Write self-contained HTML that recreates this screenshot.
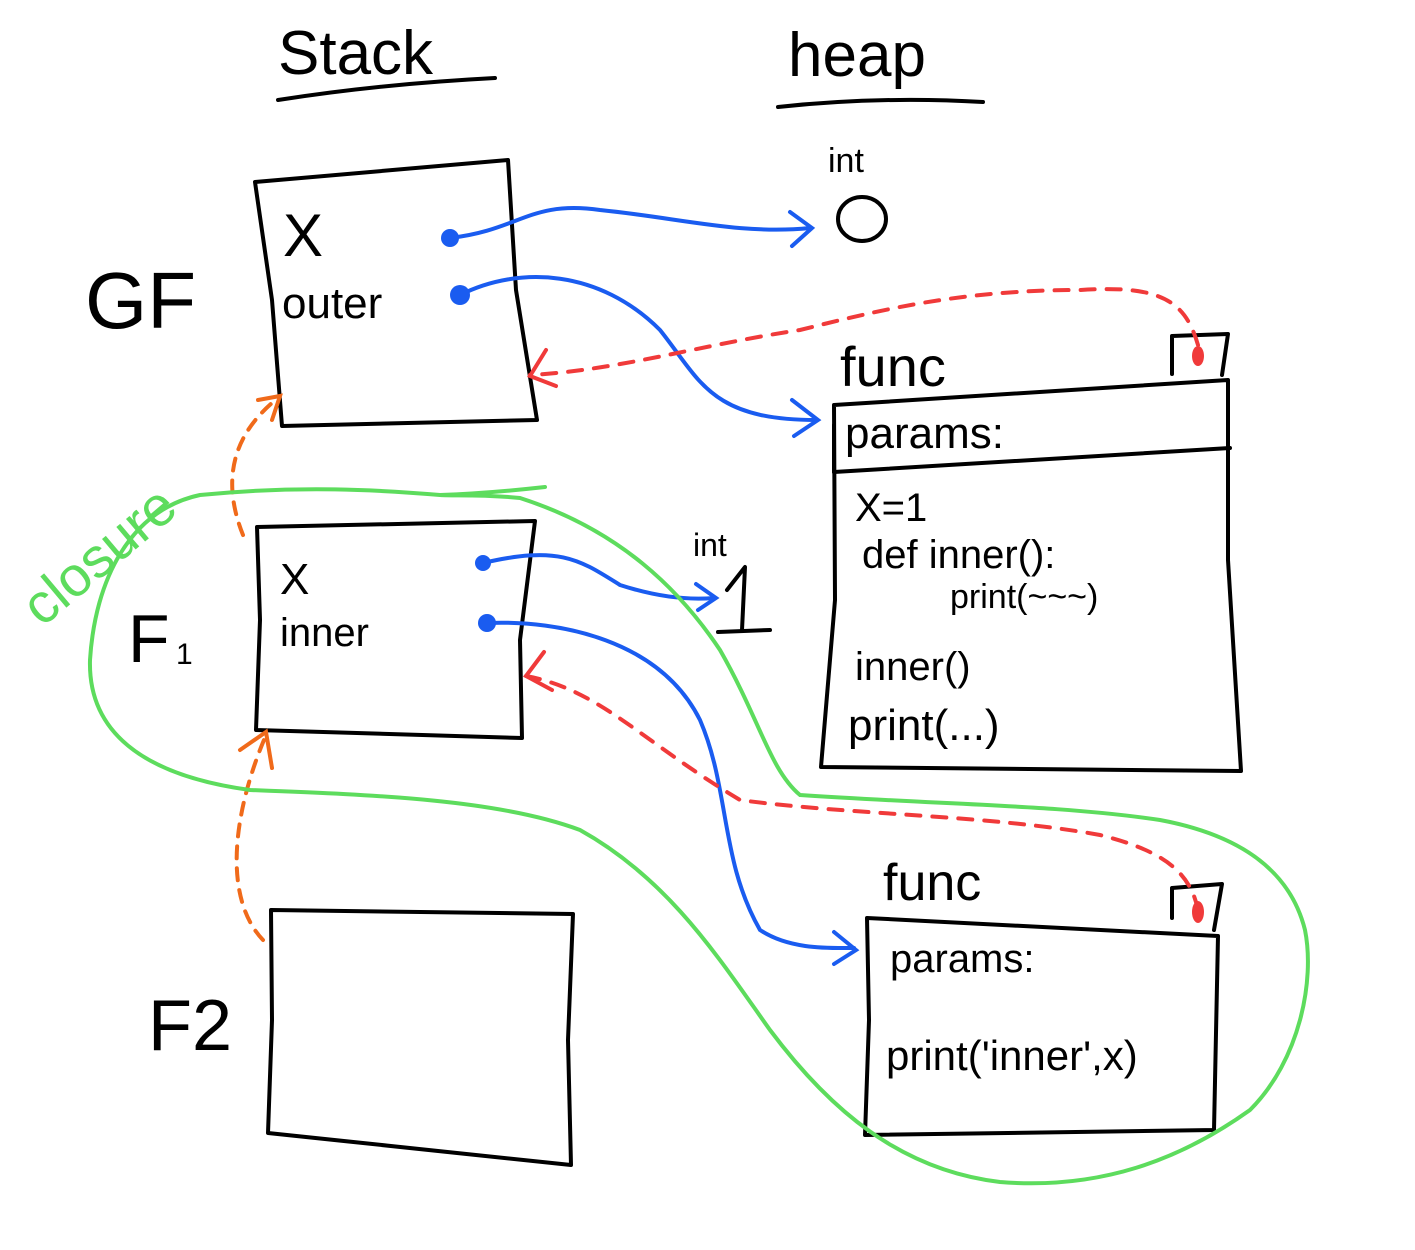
<!DOCTYPE html>
<html><head><meta charset="utf-8"><style>
html,body{margin:0;padding:0;background:#fff;}
svg{display:block;}
text{font-family:"Liberation Sans",sans-serif;fill:#000;}
</style></head><body>
<svg width="1415" height="1250" viewBox="0 0 1415 1250" xmlns="http://www.w3.org/2000/svg">
<g fill="none" stroke="#000" stroke-width="4" stroke-linecap="round" stroke-linejoin="round">
<path d="M278 100 Q380 84 495 78"/>
<path d="M778 107 Q880 96 983 102"/>
<path d="M255 182 L508 160 L516 290 L537 420 L282 426 L272 300 Z"/>
<path d="M257 527 L535 521 L520 640 L522 738 L256 730 L260 620 Z"/>
<path d="M271 910 L573 914 L568 1040 L571 1165 L268 1133 L272 1020 Z"/>
<path d="M834 405 L1228 380 L1228 560 L1241 771 L821 767 L835 600 Z"/>
<path d="M834 472 L1230 448"/>
<path d="M834 425 L834 472"/>
<path d="M1172 374 L1172 336 L1228 334 L1222 375"/>
<path d="M867 918 L1218 936 L1214 1130 L865 1135 L869 1020 Z"/>
<path d="M1172 918 L1172 888 L1222 884 L1214 930"/>
<ellipse cx="862" cy="219" rx="24" ry="22"/>
<path d="M727 590 L745 567 L742 630"/>
<path d="M718 632 L770 630"/>
</g>
<text x="278" y="74" font-size="62">Stack</text>
<text x="788" y="76" font-size="62">heap</text>
<text x="828" y="172" font-size="34">int</text>
<text x="693" y="556" font-size="32">int</text>
<text x="85" y="328" font-size="80">GF</text>
<text x="128" y="662" font-size="68">F</text><text x="176" y="664" font-size="30">1</text>
<text x="148" y="1050" font-size="72">F2</text>
<text x="283" y="256" font-size="60">X</text>
<text x="282" y="318" font-size="44">outer</text>
<text x="280" y="594" font-size="44">X</text>
<text x="280" y="646" font-size="40">inner</text>
<text x="840" y="386" font-size="56">func</text>
<text x="845" y="448" font-size="44">params:</text>
<text x="855" y="521" font-size="40">X=1</text>
<text x="862" y="568" font-size="40">def inner():</text>
<text x="950" y="608" font-size="34">print(~~~)</text>
<text x="855" y="680" font-size="40">inner()</text>
<text x="848" y="740" font-size="44">print(...)</text>
<text x="883" y="900" font-size="52">func</text>
<text x="890" y="972" font-size="40">params:</text>
<text x="886" y="1070" font-size="42">print('inner',x)</text>
<text x="0" y="0" font-size="56" style="fill:#5ddc5d" transform="translate(42,628) rotate(-40)">closure</text>
<g fill="none" stroke="#1a5cf0" stroke-width="4" stroke-linecap="round">
<path d="M450 238 C520 230 530 200 600 210 C680 218 740 235 810 228"/>
<path d="M790 212 L812 228 L792 246"/>
<path d="M460 295 C520 265 600 270 660 330 C700 380 710 420 816 420"/>
<path d="M792 400 L818 420 L794 436"/>
<path d="M483 563 C560 545 580 560 620 585 C660 598 690 600 714 598"/>
<path d="M696 584 L716 598 L698 610"/>
<path d="M487 623 C560 620 660 640 700 720 C730 790 720 860 760 930 C790 950 830 948 854 948"/>
<path d="M834 932 L856 950 L834 964"/>
</g>
<g fill="#1a5cf0"><circle cx="450" cy="238" r="9"/><circle cx="460" cy="295" r="10"/><circle cx="483" cy="563" r="8"/><circle cx="487" cy="623" r="9"/></g>
<g fill="none" stroke="#f03a3a" stroke-width="4" stroke-linecap="round" stroke-dasharray="14 12">
<path d="M1198 345 C1185 300 1160 285 1080 290 C960 290 880 310 800 330 C700 345 620 370 530 375"/>
<path d="M1198 910 C1190 870 1160 850 1100 835 C990 815 850 815 740 800 C640 740 600 690 526 676"/>
</g>
<g fill="none" stroke="#f03a3a" stroke-width="4" stroke-linecap="round">
<path d="M546 350 L530 376 L556 386"/>
<path d="M544 652 L526 676 L552 690"/>
</g>
<g fill="#f03a3a"><ellipse cx="1198" cy="356" rx="6" ry="10"/><ellipse cx="1198" cy="912" rx="6" ry="11"/></g>
<g fill="none" stroke="#f06a1a" stroke-width="4" stroke-linecap="round" stroke-dasharray="12 10">
<path d="M243 535 C225 490 225 440 278 398"/>
<path d="M263 940 C225 900 230 820 266 735"/>
</g>
<g fill="none" stroke="#f06a1a" stroke-width="4" stroke-linecap="round">
<path d="M258 400 L280 396 L272 420"/>
<path d="M240 750 L266 732 L272 768"/>
</g>
<path fill="none" stroke="#5ddc5d" stroke-width="4" stroke-linecap="round" d="M545 487 C500 492 470 494 440 495 C380 490 300 485 200 495 C130 510 95 580 90 660 C88 730 140 775 250 790 C380 795 500 800 580 830 C670 880 720 960 770 1030 C830 1110 900 1170 1000 1182 C1100 1190 1180 1160 1250 1110 C1300 1060 1315 980 1305 930 C1290 870 1240 835 1160 820 C1060 805 950 805 800 795 C770 770 760 720 720 650 C680 590 620 530 520 498 C480 494 455 496 440 495"/>
</svg>
</body></html>
